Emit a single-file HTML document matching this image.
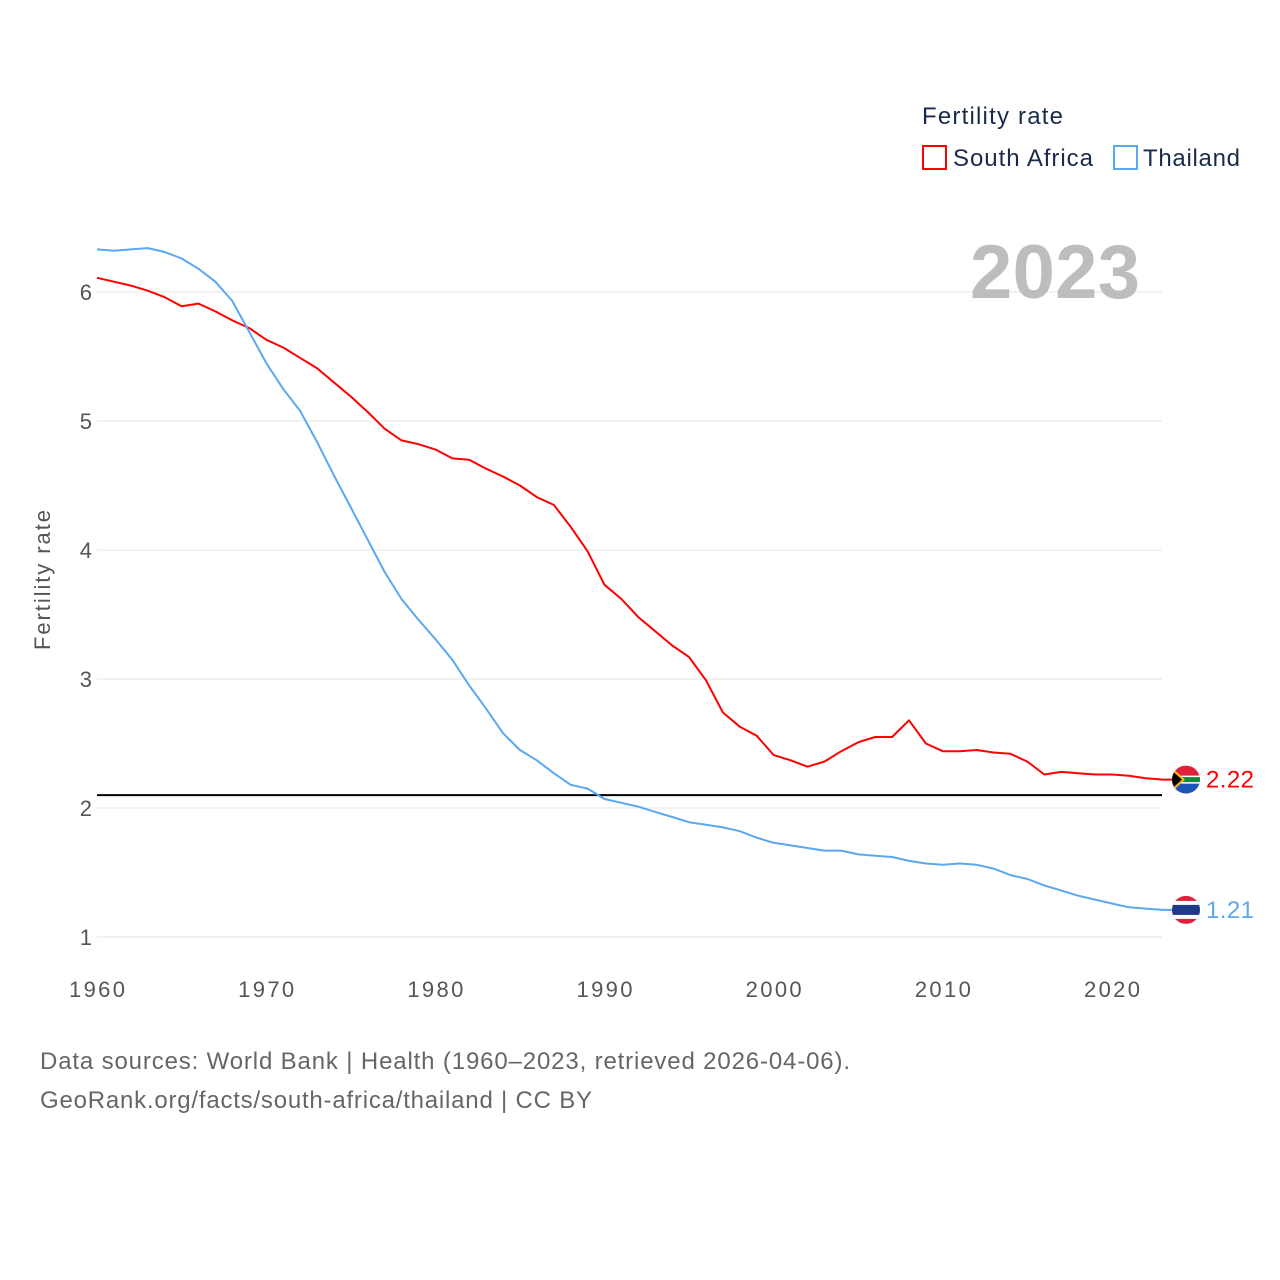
<!DOCTYPE html>
<html><head><meta charset="utf-8"><style>
html,body{margin:0;padding:0;background:#fff;width:1280px;height:1280px;overflow:hidden;font-family:"Liberation Sans",sans-serif}
</style></head><body>
<svg id="chart" width="1280" height="1280" xmlns="http://www.w3.org/2000/svg" font-family="Liberation Sans, sans-serif">
<g id="grid"></g>
<g id="yticks"></g>
<g id="xticks"></g>
<text x="50" y="580" transform="rotate(-90 50 580)" text-anchor="middle" font-size="22" fill="#555" textLength="140">Fertility rate</text>
<text x="970" y="298" font-size="76" font-weight="bold" fill="#bdbdbd" textLength="170">2023</text>
<g>
<text x="922" y="124" font-size="24" fill="#1a2a4a" textLength="141">Fertility rate</text>
<rect x="923" y="146" width="23" height="23" fill="none" stroke="#f00" stroke-width="2"/>
<text x="953" y="166" font-size="24" fill="#1a2a4a" textLength="140">South Africa</text>
<rect x="1114" y="146" width="23" height="23" fill="none" stroke="#5aa8f0" stroke-width="2"/>
<text x="1143" y="166" font-size="24" fill="#1a2a4a" textLength="97">Thailand</text>
</g>
<g id="series"></g>
<text x="40" y="1069" font-size="24" fill="#666" textLength="810">Data sources: World Bank | Health (1960–2023, retrieved 2026-04-06).</text>
<text x="40" y="1108" font-size="24" fill="#666" textLength="552">GeoRank.org/facts/south-africa/thailand | CC BY</text>
</svg>
<script>
const years=[];for(let y=1960;y<=2023;y++)years.push(y);
const southAfrica=[6.11,6.08,6.05,6.01,5.96,5.89,5.91,5.85,5.78,5.72,5.63,5.57,5.49,5.41,5.30,5.19,5.07,4.94,4.85,4.82,4.78,4.71,4.70,4.63,4.57,4.50,4.41,4.35,4.18,3.99,3.73,3.62,3.48,3.37,3.26,3.17,2.99,2.74,2.63,2.56,2.41,2.37,2.32,2.36,2.44,2.51,2.55,2.55,2.68,2.50,2.44,2.44,2.45,2.43,2.42,2.36,2.26,2.28,2.27,2.26,2.26,2.25,2.23,2.22];
const thailand=[6.33,6.32,6.33,6.34,6.31,6.26,6.18,6.08,5.93,5.69,5.45,5.25,5.08,4.84,4.58,4.33,4.08,3.83,3.62,3.46,3.31,3.15,2.95,2.77,2.58,2.45,2.37,2.27,2.18,2.15,2.07,2.04,2.01,1.97,1.93,1.89,1.87,1.85,1.82,1.77,1.73,1.71,1.69,1.67,1.67,1.64,1.63,1.62,1.59,1.57,1.56,1.57,1.56,1.53,1.48,1.45,1.40,1.36,1.32,1.29,1.26,1.23,1.22,1.21];
const yTicks=[1,2,3,4,5,6];
const xTicks=[1960,1970,1980,1990,2000,2010,2020];
const replacement=2.1;
const NS="http://www.w3.org/2000/svg";
const xs=y=>97+(y-1960)*(1015/60);
const ys=v=>937-(v-1)*129;
function mk(t,a,p){const e=document.createElementNS(NS,t);for(const k in a)e.setAttribute(k,a[k]);p.appendChild(e);return e;}
const grid=document.getElementById('grid'),yt=document.getElementById('yticks'),xt=document.getElementById('xticks'),ser=document.getElementById('series');
yTicks.forEach(v=>{
 const l=mk('line',{x1:97,x2:1162,y1:ys(v),y2:ys(v),stroke:'#e6e6e6','stroke-width':1},grid);
 
 
 const t=mk('text',{x:92,y:ys(v)+8,'text-anchor':'end','font-size':22,fill:'#555'},yt);t.textContent=v;
 
 
});
xTicks.forEach(v=>{
 const t=mk('text',{x:xs(v)-28,y:997,'font-size':22,fill:'#555',textLength:56},xt);t.textContent=v;
 
 
});
const rl=mk('line',{x1:97,x2:1162,y1:ys(replacement),y2:ys(replacement),stroke:'#000','stroke-width':2},ser);


function line(data,color,name){
 const d=data.map((v,i)=>(i?'L':'M')+xs(years[i]).toFixed(1)+','+ys(v).toFixed(1)).join('');
 const p=mk('path',{d:d,fill:'none',stroke:color,'stroke-width':2,'stroke-linejoin':'round'},ser);
 
 
 const last=data[data.length-1],ly=ys(last);
 const c=mk('line',{x1:1162,x2:1175,y1:ly,y2:ly,stroke:color,'stroke-width':2},ser);
 
 
 const g=mk('g',{},ser);
 
 
 const cx=1186;
 const cp=mk('clipPath',{id:'cp'+name},g);mk('circle',{cx:cx,cy:ly,r:14},cp);
 const f=mk('g',{'clip-path':'url(#cp'+name+')'},g);
 if(name==='thailand'){
  mk('rect',{x:cx-14,y:ly-14,width:28,height:28,fill:'#e0203a'},f);
  mk('rect',{x:cx-14,y:ly-9,width:28,height:18,fill:'#fff'},f);
  mk('rect',{x:cx-14,y:ly-5,width:28,height:10,fill:'#1e3a8a'},f);
 }else{
  mk('rect',{x:cx-14,y:ly-14,width:28,height:14,fill:'#e0203a'},f);
  mk('rect',{x:cx-14,y:ly,width:28,height:14,fill:'#1c55b5'},f);
  mk('rect',{x:cx-14,y:ly-4,width:28,height:8,fill:'#fff'},f);
  mk('rect',{x:cx-14,y:ly-2.5,width:28,height:5,fill:'#0a8a3a'},f);
  mk('polygon',{points:`${cx-14},${ly-12} ${cx-1},${ly} ${cx-14},${ly+12}`,fill:'#ffb612'},f);
  mk('polygon',{points:`${cx-14},${ly-9} ${cx-4},${ly} ${cx-14},${ly+9}`,fill:'#000'},f);
 }
 const t=mk('text',{x:1206,y:ly+8,'font-size':24,fill:color,textLength:48},ser);t.textContent=last.toFixed(2);
 
 
}
line(southAfrica,'#f00','south-africa');
line(thailand,'#5aa8f0','thailand');
</script>
</body></html>
